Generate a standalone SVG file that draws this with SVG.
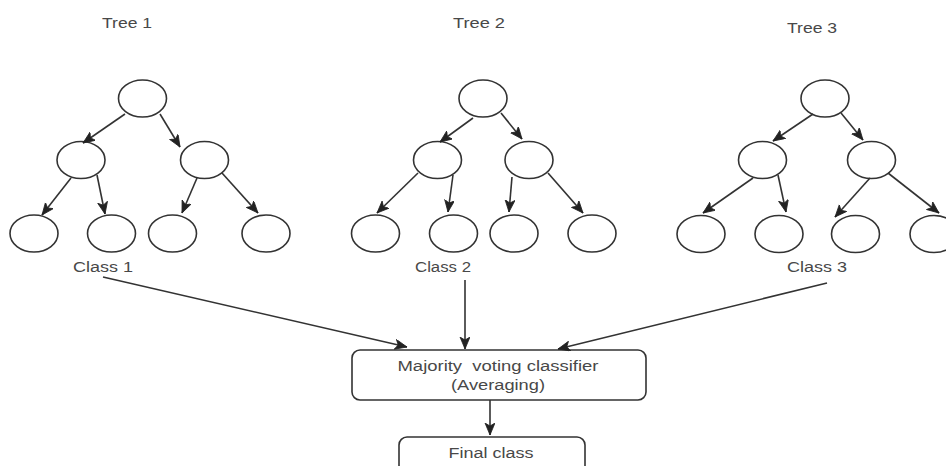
<svg xmlns="http://www.w3.org/2000/svg" width="946" height="466" viewBox="0 0 946 466">
<defs>
<marker id="arr" markerUnits="userSpaceOnUse" markerWidth="14" markerHeight="12" refX="12" refY="5" orient="auto">
<path d="M0,0 L12,5 L0,10 L3,5 Z" fill="#222" stroke="#222" stroke-width="0.8"/>
</marker>
</defs>
<style>
.n{fill:#fff;stroke:#333;stroke-width:1.6}
.e{stroke:#333;stroke-width:1.6;fill:none;marker-end:url(#arr)}
.t{font-family:"Liberation Sans",Arial,sans-serif;font-size:14px;fill:#484848;text-anchor:middle;white-space:pre}
</style>
<rect width="946" height="466" fill="#fff"/>
<g id="titles">
<text class="t" x="127" y="28" textLength="50" lengthAdjust="spacingAndGlyphs">Tree 1</text>
<text class="t" x="479" y="28" textLength="52" lengthAdjust="spacingAndGlyphs">Tree 2</text>
<text class="t" x="812" y="33" textLength="50" lengthAdjust="spacingAndGlyphs">Tree 3</text>
</g>
<g id="tree1">
<ellipse class="n" cx="142.5" cy="98.5" rx="24" ry="18.5"/>
<ellipse class="n" cx="81" cy="160" rx="24" ry="18.5"/>
<ellipse class="n" cx="204.5" cy="160" rx="24" ry="18.5"/>
<ellipse class="n" cx="34" cy="233.5" rx="24" ry="18.5"/>
<ellipse class="n" cx="111.5" cy="233.5" rx="24" ry="18.5"/>
<ellipse class="n" cx="172.5" cy="233.5" rx="24" ry="18.5"/>
<ellipse class="n" cx="266" cy="233.5" rx="24" ry="18.5"/>
<text class="t" x="103" y="272" textLength="60" lengthAdjust="spacingAndGlyphs">Class 1</text>
</g>
<g id="tree2">
<ellipse class="n" cx="483" cy="98.5" rx="24" ry="18.5"/>
<ellipse class="n" cx="437.5" cy="160" rx="24" ry="18.5"/>
<ellipse class="n" cx="529" cy="160" rx="24" ry="18.5"/>
<ellipse class="n" cx="375.5" cy="233.5" rx="24" ry="18.5"/>
<ellipse class="n" cx="453.5" cy="233.5" rx="24" ry="18.5"/>
<ellipse class="n" cx="514" cy="233.5" rx="24" ry="18.5"/>
<ellipse class="n" cx="592" cy="233.5" rx="24" ry="18.5"/>
<text class="t" x="443" y="272" textLength="56" lengthAdjust="spacingAndGlyphs">Class 2</text>
</g>
<g id="tree3">
<ellipse class="n" cx="825" cy="98.5" rx="24" ry="18.5"/>
<ellipse class="n" cx="762.5" cy="160" rx="24" ry="18.5"/>
<ellipse class="n" cx="871.5" cy="160" rx="24" ry="18.5"/>
<ellipse class="n" cx="701" cy="234" rx="24" ry="18.5"/>
<ellipse class="n" cx="779" cy="234" rx="24" ry="18.5"/>
<ellipse class="n" cx="855.5" cy="234" rx="24" ry="18.5"/>
<ellipse class="n" cx="934" cy="234" rx="24" ry="18.5"/>
<text class="t" x="817" y="272" textLength="60" lengthAdjust="spacingAndGlyphs">Class 3</text>
</g>
<g id="voting">
<rect class="n" x="352" y="350" width="294" height="50" rx="8"/>
<text class="t" x="498" y="371" textLength="201" lengthAdjust="spacingAndGlyphs" xml:space="preserve">Majority  voting classifier</text>
<text class="t" x="498" y="390" textLength="94" lengthAdjust="spacingAndGlyphs">(Averaging)</text>
</g>
<g id="final">
<rect class="n" x="399" y="437" width="186" height="50" rx="8"/>
<text class="t" x="491" y="458" textLength="85" lengthAdjust="spacingAndGlyphs">Final class</text>
</g>
<g id="connectors">
<line class="e" x1="125" y1="114" x2="83" y2="143"/>
<line class="e" x1="160" y1="114" x2="180" y2="147"/>
<line class="e" x1="71" y1="178" x2="42" y2="215"/>
<line class="e" x1="97" y1="175" x2="105" y2="214"/>
<line class="e" x1="197" y1="178" x2="182" y2="213"/>
<line class="e" x1="222" y1="173" x2="258" y2="213"/>
<line class="e" x1="473" y1="118" x2="440" y2="142"/>
<line class="e" x1="501" y1="113" x2="522" y2="139"/>
<line class="e" x1="418" y1="173" x2="377" y2="213"/>
<line class="e" x1="453" y1="175" x2="448" y2="212"/>
<line class="e" x1="512" y1="177" x2="509" y2="212"/>
<line class="e" x1="548" y1="173" x2="583" y2="213"/>
<line class="e" x1="813" y1="114" x2="773" y2="141"/>
<line class="e" x1="841" y1="113" x2="863" y2="140"/>
<line class="e" x1="753" y1="178" x2="703" y2="213"/>
<line class="e" x1="778" y1="175" x2="786" y2="212"/>
<line class="e" x1="870" y1="178" x2="835" y2="217"/>
<line class="e" x1="888" y1="173" x2="939" y2="213"/>
<line class="e" x1="103" y1="277" x2="407" y2="347"/>
<line class="e" x1="465" y1="280" x2="465" y2="349"/>
<line class="e" x1="827" y1="283" x2="558" y2="349"/>
<line class="e" x1="490" y1="400" x2="490" y2="435"/>
</g>
</svg>
